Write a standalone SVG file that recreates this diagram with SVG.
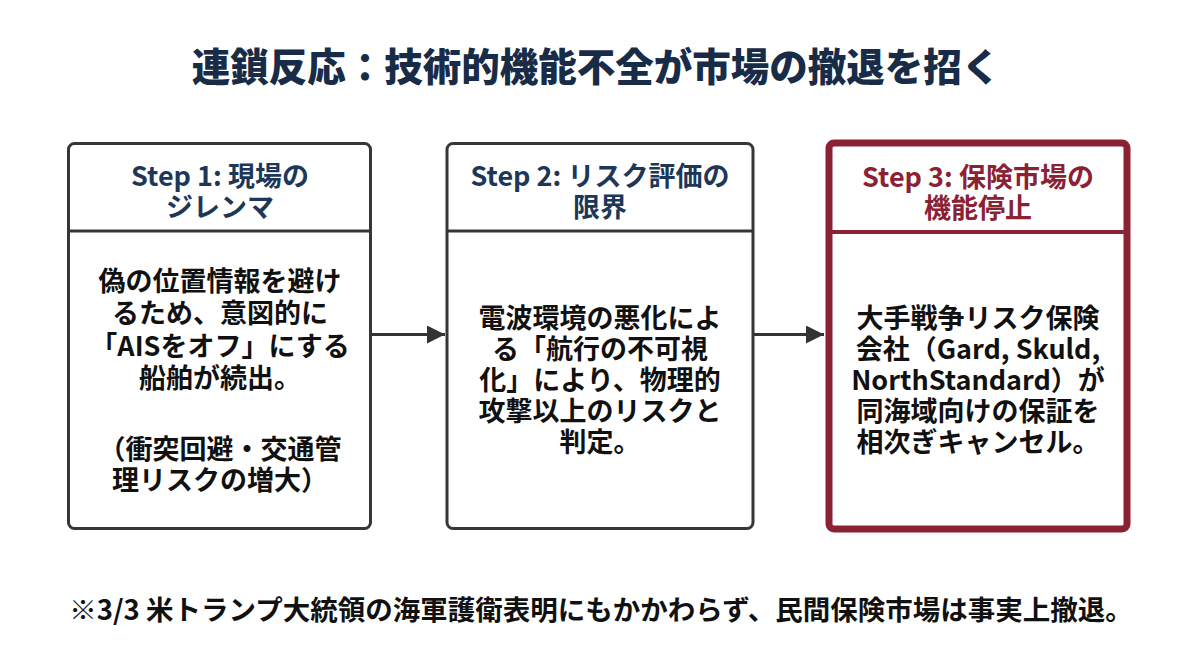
<svg xmlns="http://www.w3.org/2000/svg" width="1200" height="670" viewBox="0 0 1200 670">
  <defs>
    <marker id="arrow" viewBox="0 0 10 10" refX="10" refY="5" markerWidth="6" markerHeight="6" markerUnits="strokeWidth" orient="auto">
      <path d="M0,0 L10,5 L0,10 z" fill="#333333"/>
    </marker>
    <style>
      text { font-family: "Noto Sans CJK JP", "Noto Sans", sans-serif; font-weight: 700; text-anchor: middle; }
      .title { font-size: 38.5px; fill: #182c47; font-weight: 900; }
      .head { font-size: 27px; fill: #1d3759; }
      .head3 { font-size: 27px; fill: #8a2234; }
      .body { font-size: 27px; fill: #111111; }
      .note { font-size: 27.5px; fill: #111111; }
      .box { fill: #ffffff; stroke: #363636; stroke-width: 3; }
      .div { stroke: #363636; stroke-width: 3; }
      .box3 { fill: #ffffff; stroke: #8a2234; stroke-width: 7; }
      .div3 { stroke: #8a2234; stroke-width: 4; }
      .conn { stroke: #333333; stroke-width: 3; fill: none; }
    </style>
  </defs>
  <rect width="1200" height="670" fill="#ffffff"/>

  <text id="title" class="title" x="596" y="81">連鎖反応：技術的機能不全が市場の撤退を招く</text>

  <g id="step1">
    <rect class="box" x="68.5" y="143.5" width="302" height="385" rx="6"/>
    <line class="div" x1="68.5" y1="231" x2="370.5" y2="231"/>
    <text class="head" x="220" y="186">Step 1: 現場の</text>
    <text class="head" x="220" y="217">ジレンマ</text>
    <text class="body" x="220" y="291">偽の位置情報を避け</text>
    <text class="body" x="220" y="323">るため、意図的に</text>
    <text class="body" x="220" y="356">「AISをオフ」にする</text>
    <text class="body" x="220" y="388">船舶が続出。</text>
    <text class="body" x="220" y="459">（衝突回避・交通管</text>
    <text class="body" x="220" y="490">理リスクの増大）</text>
  </g>

  <g id="step2">
    <rect class="box" x="447" y="143.5" width="306" height="385" rx="6"/>
    <line class="div" x1="447" y1="231" x2="753" y2="231"/>
    <text class="head" x="600" y="186">Step 2: リスク評価の</text>
    <text class="head" x="600" y="217">限界</text>
    <text class="body" x="600" y="328">電波環境の悪化によ</text>
    <text class="body" x="600" y="359">る「航行の不可視</text>
    <text class="body" x="600" y="390">化」により、物理的</text>
    <text class="body" x="600" y="421">攻撃以上のリスクと</text>
    <text class="body" x="600" y="452">判定。</text>
  </g>

  <g id="step3">
    <rect class="box3" x="829" y="143" width="298" height="386" rx="5"/>
    <line class="div3" x1="829" y1="232" x2="1127" y2="232"/>
    <text class="head3" x="978" y="187">Step 3: 保険市場の</text>
    <text class="head3" x="978" y="218">機能停止</text>
    <text class="body" x="978" y="328">大手戦争リスク保険</text>
    <text class="body" x="978" y="359">会社（Gard, Skuld,</text>
    <text class="body" x="978" y="390">NorthStandard）が</text>
    <text class="body" x="978" y="421">同海域向けの保証を</text>
    <text class="body" x="978" y="452">相次ぎキャンセル。</text>
  </g>

  <g id="connectors">
    <line class="conn" x1="371" y1="334.5" x2="445" y2="334.5" marker-end="url(#arrow)"/>
    <line class="conn" x1="754" y1="334.5" x2="824" y2="334.5" marker-end="url(#arrow)"/>
  </g>

  <text id="note" class="note" x="601" y="620">※3/3 米トランプ大統領の海軍護衛表明にもかかわらず、民間保険市場は事実上撤退。</text>
</svg>
